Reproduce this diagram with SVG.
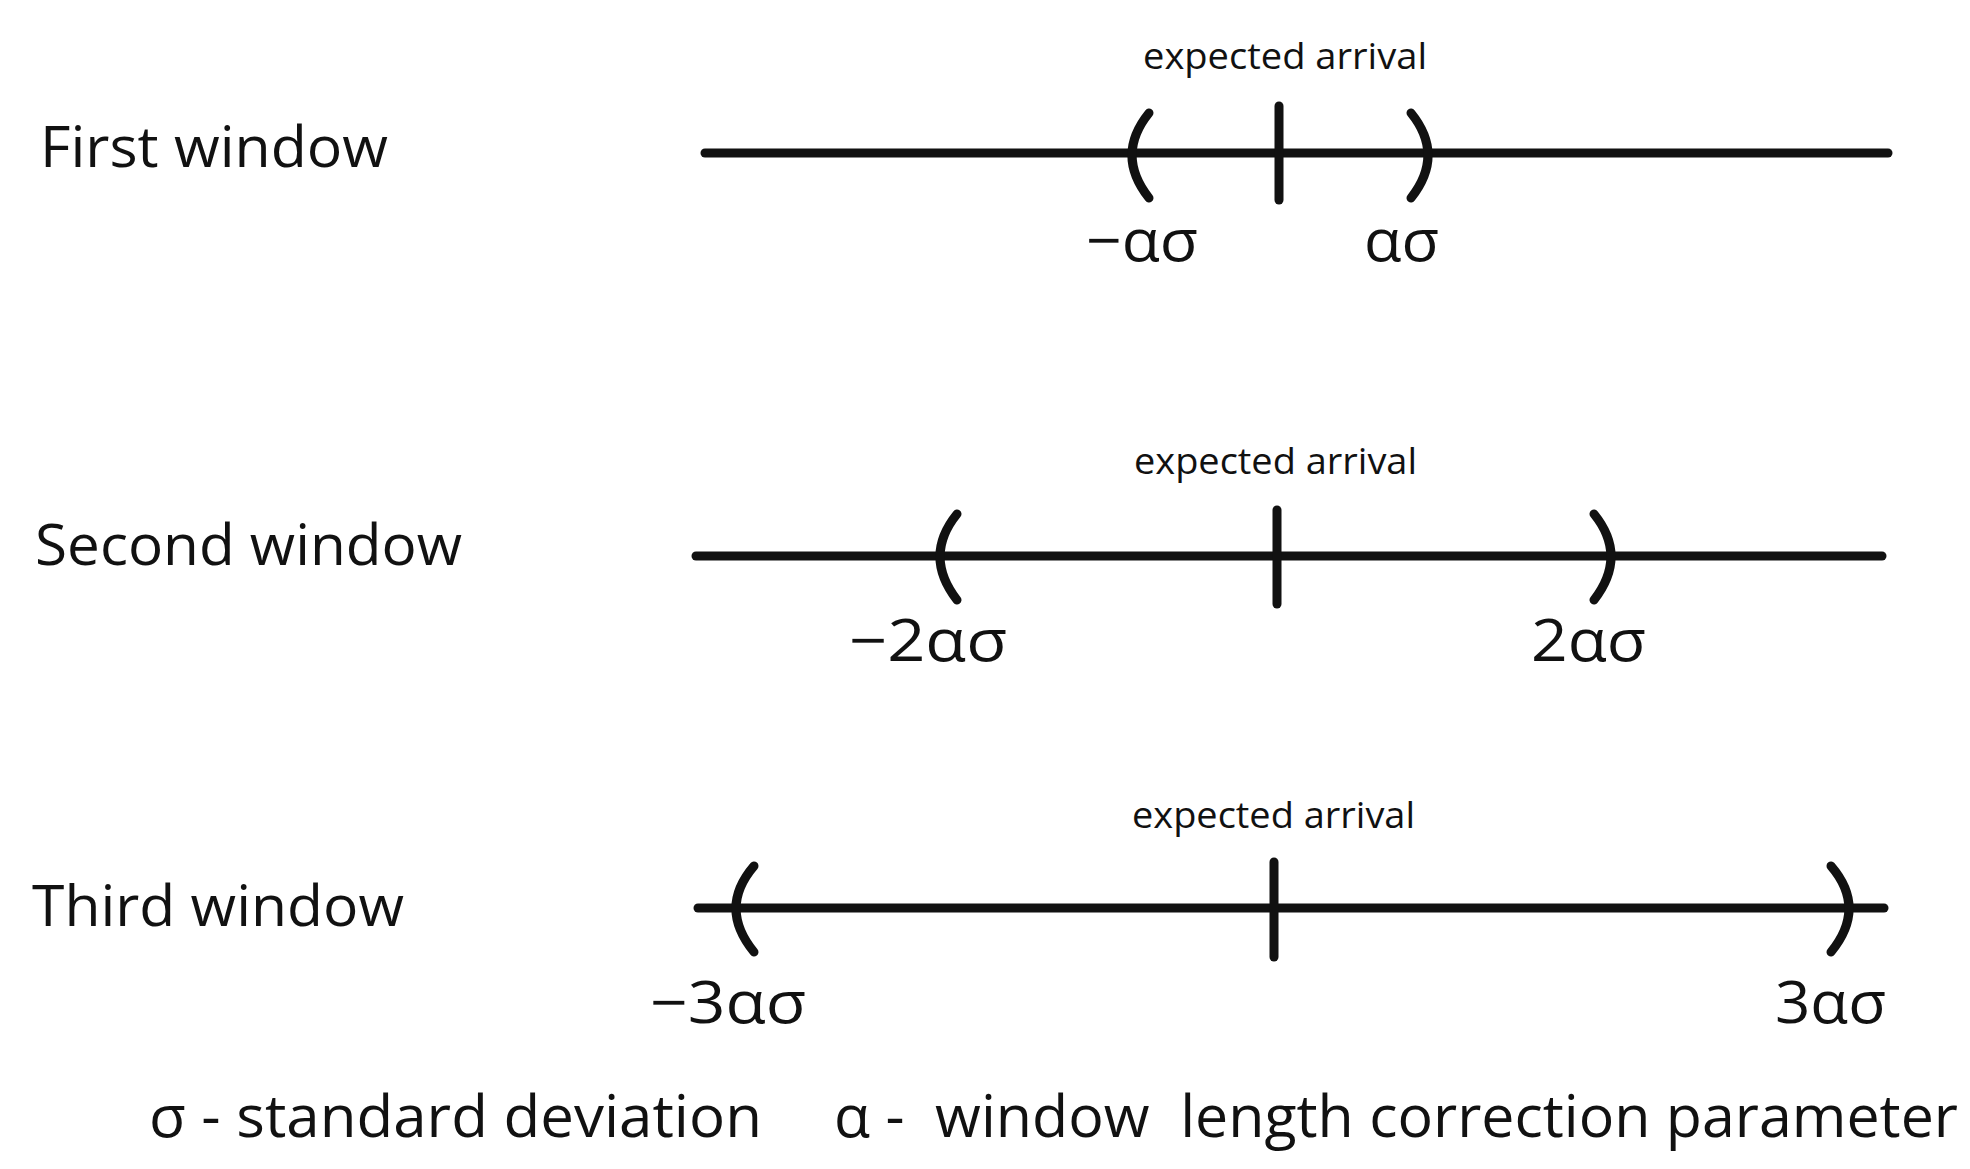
<svg xmlns="http://www.w3.org/2000/svg" width="1970" height="1169" viewBox="0 0 1970 1169">
<style>
.ln{stroke:#111;stroke-width:9;stroke-linecap:round;fill:none}
.t{font-family:"Open Sans","Liberation Sans",sans-serif;fill:#111}
.lab{font-size:56px}
.ea{font-size:36px}
.m{font-size:58px}
</style>
<rect width="1970" height="1169" fill="#fff"/>
<g id="w1">
<text class="t lab" x="40" y="167" textLength="348" lengthAdjust="spacingAndGlyphs">First window</text>
<text class="t ea" x="1143" y="69" textLength="284" lengthAdjust="spacingAndGlyphs">expected arrival</text>
<text class="t m" x="1086" y="261" textLength="112" lengthAdjust="spacingAndGlyphs">−ασ</text>
<text class="t m" x="1364" y="261" textLength="75" lengthAdjust="spacingAndGlyphs">ασ</text>
</g>
<g id="w2">
<text class="t lab" x="35" y="565" textLength="427" lengthAdjust="spacingAndGlyphs">Second window</text>
<text class="t ea" x="1134" y="474" textLength="283" lengthAdjust="spacingAndGlyphs">expected arrival</text>
<text class="t m" x="849" y="661" textLength="158" lengthAdjust="spacingAndGlyphs">−2ασ</text>
<text class="t m" x="1531" y="661" textLength="115" lengthAdjust="spacingAndGlyphs">2ασ</text>
</g>
<g id="w3">
<text class="t lab" x="32" y="926" textLength="372" lengthAdjust="spacingAndGlyphs">Third window</text>
<text class="t ea" x="1132" y="828" textLength="283" lengthAdjust="spacingAndGlyphs">expected arrival</text>
<text class="t m" x="650" y="1023" textLength="156" lengthAdjust="spacingAndGlyphs">−3ασ</text>
<text class="t m" x="1775" y="1023" textLength="111" lengthAdjust="spacingAndGlyphs">3ασ</text>
</g>
<g id="legend">
<text class="t m" x="149" y="1137" textLength="613" lengthAdjust="spacingAndGlyphs" xml:space="preserve">σ - standard deviation</text>
<text class="t m" x="834" y="1137" textLength="1124" lengthAdjust="spacingAndGlyphs" xml:space="preserve">α -  window  length correction parameter</text>
</g>
<g id="connectors">
<line class="ln" x1="705" y1="153" x2="1888" y2="153"/>
<line class="ln" x1="1279" y1="106" x2="1279" y2="200"/>
<path class="ln" d="M1149 113 Q1115 155 1149 198"/>
<path class="ln" d="M1411 113 Q1445 155 1411 198"/>
<line class="ln" x1="696" y1="556" x2="1882" y2="556"/>
<line class="ln" x1="1277" y1="510" x2="1277" y2="604"/>
<path class="ln" d="M957 514 Q923 556 957 600"/>
<path class="ln" d="M1594 514 Q1628 556 1594 600"/>
<line class="ln" x1="698" y1="908" x2="1884" y2="908"/>
<line class="ln" x1="1274" y1="862" x2="1274" y2="957"/>
<path class="ln" d="M754 866 Q718 908 754 952"/>
<path class="ln" d="M1831 866 Q1867 908 1831 952"/>
</g>
</svg>
